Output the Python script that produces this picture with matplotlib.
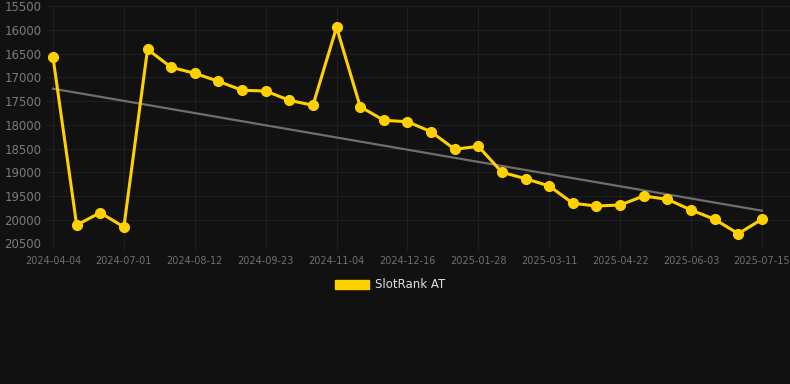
import numpy as np
import matplotlib
matplotlib.use("Agg")
import matplotlib.pyplot as plt
from matplotlib.patches import Patch

# dates shown on the category axis (only every 3rd one is labelled)
dates = ["2024-04-04", "2024-05-06", "2024-06-03", "2024-07-01", "2024-07-15",
         "2024-07-29", "2024-08-12", "2024-08-26", "2024-09-09", "2024-09-23",
         "2024-10-07", "2024-10-21", "2024-11-04", "2024-11-18", "2024-12-02",
         "2024-12-16", "2024-12-30", "2025-01-14", "2025-01-28", "2025-02-11",
         "2025-02-25", "2025-03-11", "2025-03-25", "2025-04-08", "2025-04-22",
         "2025-05-06", "2025-05-20", "2025-06-03", "2025-06-17", "2025-07-01",
         "2025-07-15"]

rank = [16576, 20114, 19854, 20156, 16407, 16787, 16914, 17082, 17272, 17287,
        17483, 17589, 15943, 17618, 17905, 17935, 18146, 18517, 18454, 19002,
        19137, 19291, 19656, 19713, 19692, 19502, 19572, 19797, 19994, 20297,
        19994]

trend_ends = [17238, 19812]  # start / end of the grey trend line

bg = "#111111"
gold = "#FFD100"

fig = plt.figure(figsize=(7.9, 3.84), dpi=100, facecolor=bg)
ax = fig.add_axes([47 / 790, 1 - 243.3 / 384, (790 - 47) / 790, (243.3 - 6.3) / 384])
ax.set_facecolor(bg)

x = np.arange(len(rank))
ax.plot([x[0], x[-1]], trend_ends, color="#6e6e6e", lw=1.6, zorder=2)
ax.plot(x, rank, color=gold, lw=2.2, marker="o", ms=7, mec=gold, mfc=gold, zorder=3)

ax.set_ylim(20500, 15500)
ax.set_yticks(np.arange(15500, 20501, 500))
ax.set_xlim(-6 / 23.63, (790 - 53) / 23.63)
ax.set_xticks(x[::3])
ax.set_xticklabels(dates[::3])

ax.grid(True, color="#1f1f1f", lw=0.8)
for s in ax.spines.values():
    s.set_visible(False)
ax.tick_params(axis="y", length=0, pad=4, labelsize=8.5, labelcolor="#7a7a7a")
ax.tick_params(axis="x", length=5, color="#1f1f1f", pad=4, labelsize=7, labelcolor="#6f6f6f")

fig.legend(handles=[Patch(facecolor=gold, edgecolor=gold, label="SlotRank AT")],
           loc="center", bbox_to_anchor=(390 / 790, 1 - 285 / 384), frameon=False,
           handlelength=2.9, handleheight=0.9, handletextpad=0.5,
           fontsize=8.5, labelcolor="#dddddd")

fig.savefig("out.png", dpi=100, facecolor=bg)
